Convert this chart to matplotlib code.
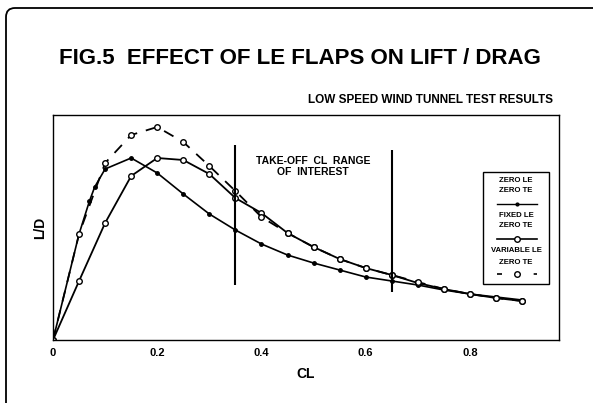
import numpy as np
import matplotlib.pyplot as plt
from matplotlib.patches import Rectangle, PathPatch
from matplotlib.path import Path
from matplotlib.lines import Line2D

plt.rcParams['font.family'] = ['Liberation Sans', 'DejaVu Sans']

# =============================
# DATA (L/D in arbitrary units)
# =============================

cl_zero = [0, 0.05, 0.07, 0.08, 0.1, 0.15, 0.2, 0.25, 0.3, 0.35, 0.4, 0.45,
           0.5, 0.55, 0.6, 0.65, 0.7, 0.75, 0.8, 0.85, 0.9]
ld_zero = [0, 10.6, 13.9, 15.3, 17.1, 18.2, 16.7, 14.6, 12.6, 11.0, 9.6, 8.5,
           7.7, 7.0, 6.3, 5.9, 5.5, 5.0, 4.6, 4.3, 4.0]

cl_fixed = [0, 0.05, 0.1, 0.15, 0.2, 0.25, 0.3, 0.35, 0.4, 0.45,
            0.5, 0.55, 0.6, 0.65, 0.7, 0.75, 0.8, 0.85, 0.9]
ld_fixed = [0, 5.9, 11.7, 16.4, 18.2, 18.0, 16.6, 14.2, 12.7, 10.7,
            9.3, 8.1, 7.2, 6.5, 5.7, 5.1, 4.6, 4.2, 3.9]

cl_var = [0, 0.05, 0.1, 0.15, 0.2, 0.25, 0.3, 0.35, 0.4, 0.45,
          0.5, 0.55, 0.6, 0.65, 0.7, 0.75, 0.8, 0.85, 0.9]
ld_var = [0, 10.6, 17.7, 20.5, 21.3, 19.8, 17.4, 14.9, 12.3, 10.7,
          9.3, 8.1, 7.2, 6.5, 5.8, 5.1, 4.6, 4.2, 3.9]

range_cl = [0.35, 0.65]
range_lo = [5.5, 4.8]
range_hi = [19.5, 19.0]

xticks = [0, 0.2, 0.4, 0.6, 0.8]
xticklabels = ["0", "0.2", "0.4", "0.6", "0.8"]

legend_labels = [["ZERO LE", "ZERO TE"], ["FIXED LE", "ZERO TE"], ["VARIABLE LE", "ZERO TE"]]

# =============================
# FIGURE
# =============================

W, H = 593, 403
fig = plt.figure(figsize=(W / 100, H / 100), dpi=100)


def px(x, y):
    return x / W, 1 - y / H


# page frame: left edge + top edge with a rounded corner
r = 9
verts = [px(6, H + 5), px(6, 8 + r), px(6, 8), px(6 + r, 8), px(W + 5, 8)]
codes = [Path.MOVETO, Path.LINETO, Path.CURVE3, Path.CURVE3, Path.LINETO]
fig.patches.append(PathPatch(Path(verts, codes), transform=fig.transFigure,
                             fill=False, lw=1.3, ec="black"))

fig.text(*px(300, 59), "FIG.5  EFFECT OF LE FLAPS ON LIFT / DRAG",
         ha="center", va="center", fontsize=16, fontweight="bold")
fig.text(*px(553, 100), "LOW SPEED WIND TUNNEL TEST RESULTS",
         ha="right", va="center", fontsize=8.5, fontweight="bold")

ax = fig.add_axes([53 / W, 1 - 340 / H, (559 - 53) / W, (340 - 115) / H])

ax.plot(cl_zero, ld_zero, "-", color="black", lw=1.2,
        marker="o", ms=2.5, mfc="black", mec="black")
ax.plot(cl_fixed, ld_fixed, "-", color="black", lw=1.3,
        marker="o", ms=4, mfc="white", mec="black", mew=1.0)
ax.plot(cl_var, ld_var, color="black", lw=1.3, dashes=(6, 5),
        marker="o", ms=4, mfc="white", mec="black", mew=1.0)

for c, lo, hi in zip(range_cl, range_lo, range_hi):
    ax.vlines(c, lo, hi, color="black", lw=1.5)

ax.text(0.499, 17.35, "TAKE-OFF  CL  RANGE\nOF  INTEREST", ha="center", va="center",
        fontsize=7.5, fontweight="bold", linespacing=1.05)

ax.set_xlim(0, 0.971)
ax.set_ylim(0, 22.5)
ax.set_xticks(xticks)
ax.set_xticklabels(xticklabels, fontweight="bold", fontsize=8)
ax.set_yticks([])
ax.tick_params(axis="x", length=0, pad=6)
for s in ax.spines.values():
    s.set_linewidth(1.0)

ax.set_xlabel("CL", fontweight="bold", fontsize=10, labelpad=6)
ax.set_ylabel("L/D", fontweight="bold", fontsize=10, labelpad=4)

# legend box drawn by hand
fig.patches.append(Rectangle(px(483, 284), 66 / W, 112 / H, transform=fig.transFigure,
                             fill=False, ec="black", lw=1.0))
text_y = [(181, 191), (216, 226), (251, 262)]
line_y = [204, 239, 274]
for i, (labels, ty, ly) in enumerate(zip(legend_labels, text_y, line_y)):
    for lab, yy in zip(labels, ty):
        fig.text(*px(516, yy), lab, ha="center", va="center", fontsize=5.6, fontweight="bold")
    yl = px(0, ly)[1]
    if i == 0:
        fig.add_artist(Line2D([497 / W, 537 / W], [yl, yl], color="black", lw=1.0))
        fig.add_artist(Line2D([517 / W], [yl], color="black", marker="o", ms=2))
    elif i == 1:
        fig.add_artist(Line2D([497 / W, 537 / W], [yl, yl], color="black", lw=1.2))
        fig.add_artist(Line2D([517 / W], [yl], color="black", marker="o", ms=4,
                              mfc="white", mew=1.0))
    else:
        fig.add_artist(Line2D([497 / W, 537 / W], [yl, yl], color="black", lw=1.2,
                              dashes=(3, 8)))
        fig.add_artist(Line2D([517 / W], [yl], color="black", marker="o", ms=4,
                              mfc="white", mew=1.0))

fig.savefig("out.png", dpi=100)
